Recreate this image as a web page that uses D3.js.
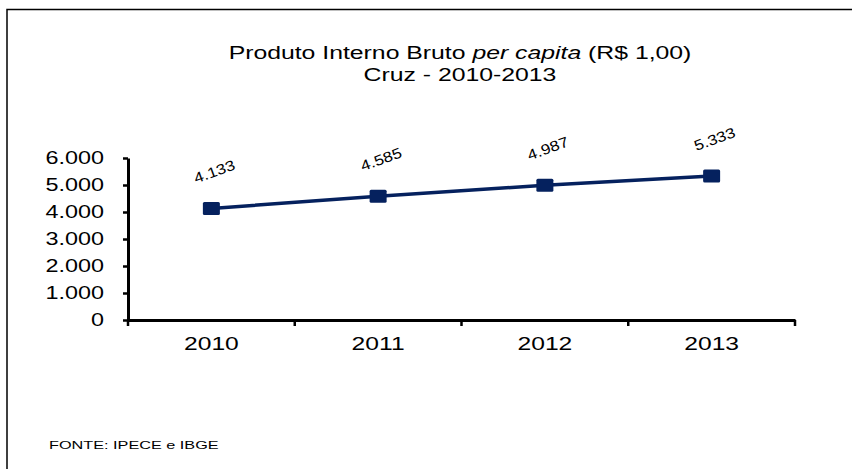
<!DOCTYPE html>
<html><head><meta charset="utf-8">
<script src="https://cdn.jsdelivr.net/npm/d3@7"></script>
<style>
html,body{margin:0;padding:0;background:#fff;}
svg{display:block;}
text{font-family:"Liberation Sans",Arial,sans-serif;}
</style></head>
<body>
<svg id="c" width="852" height="469"></svg>
<script>
const years = ["2010","2011","2012","2013"];
const values = [4133, 4585, 4987, 5333];
const valueLabels = ["4.133","4.585","4.987","5.333"];
const yTicks = [0,1000,2000,3000,4000,5000,6000];
const yTickLabels = ["0","1.000","2.000","3.000","4.000","5.000","6.000"];
const titleLine1 = ["Produto Interno Bruto ", "per capita", " (R$ 1,00)"];
const titleLine2 = "Cruz - 2010-2013";
const source = "FONTE: IPECE e IBGE";

const svg = d3.select("#c");
const color = "#05215e";
const SX = 1.34; // horizontal stretch of the reference's text

// frame (top and left border)
svg.append("path").attr("d","M7,470 V9.5 H852").attr("fill","none").attr("stroke","#000").attr("stroke-width",1.5);

const x = d3.scaleBand().domain(years).range([128,795]);
const y = d3.scaleLinear().domain([0,6000]).range([320,158]);

// title
const t1 = svg.append("text").attr("transform",`translate(460,58.5) scale(${SX},1)`).attr("text-anchor","middle")
  .attr("font-size",18.5).attr("fill","#000");
t1.append("tspan").text(titleLine1[0]);
t1.append("tspan").attr("font-style","italic").text(titleLine1[1]);
t1.append("tspan").text(titleLine1[2]);
svg.append("text").attr("transform",`translate(460,80.5) scale(${SX},1)`).attr("text-anchor","middle")
  .attr("font-size",18.5).attr("fill","#000").text(titleLine2);

// y axis
const yAxis = d3.axisLeft(y).tickValues(yTicks).tickFormat((d,i)=>yTickLabels[i]).tickSize(5).tickPadding(19).tickSizeOuter(0);
const gy = svg.append("g").attr("transform","translate(128,0)").call(yAxis);
gy.select(".domain").attr("stroke","#000").attr("stroke-width",3);
gy.selectAll(".tick line").attr("stroke","#000").attr("stroke-width",2.5);
gy.selectAll(".tick text").attr("font-size",18).attr("fill","#000").attr("font-family","Liberation Sans, Arial, sans-serif")
  .attr("x",-24/1.3).attr("transform","scale(1.3,1)");

// x axis
const xAxis = d3.axisBottom(x).tickSize(0).tickPadding(14).tickSizeOuter(0);
const gx = svg.append("g").attr("transform","translate(0,320)").call(xAxis);
gx.select(".domain").attr("stroke","#000").attr("stroke-width",3);
gx.selectAll(".tick text").attr("font-size",18).attr("fill","#000").attr("font-family","Liberation Sans, Arial, sans-serif")
  .attr("dy","0.9em").attr("transform","scale(1.37,1)");
// category boundary ticks
const bounds = years.map(d=>x(d)).concat([x.range()[1]]);
gx.selectAll(".btick").data(bounds).enter().append("line").attr("class","btick")
  .attr("x1",d=>d).attr("x2",d=>d).attr("y1",0).attr("y2",6).attr("stroke","#000").attr("stroke-width",2.5);

// line
const cx = d => x(d) + x.bandwidth()/2;
const line = d3.line().x((d,i)=>cx(years[i])).y(d=>y(d));
svg.append("path").datum(values).attr("d",line).attr("fill","none").attr("stroke",color).attr("stroke-width",3.5);

// markers (wider than tall, like the reference)
svg.selectAll(".m").data(values).enter().append("rect").attr("class","m")
  .attr("x",(d,i)=>cx(years[i])-8.5).attr("y",d=>y(d)-6.5).attr("width",17).attr("height",13)
  .attr("rx",1.5).attr("fill",color);

// value labels
svg.selectAll(".vl").data(values).enter().append("text").attr("class","vl")
  .attr("transform",(d,i)=>`translate(${cx(years[i])+3},${y(d)-37}) rotate(-20) scale(1.18,1)`)
  .attr("text-anchor","middle").attr("dy","0.35em").attr("font-size",14.5).attr("fill","#000")
  .text((d,i)=>valueLabels[i]);

// source
svg.append("text").attr("transform","translate(49,449) scale(1.4,1)").attr("font-size",11.6).attr("fill","#000").text(source);
</script>
</body></html>
